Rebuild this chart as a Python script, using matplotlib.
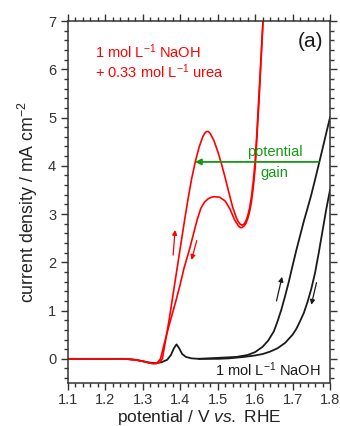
import matplotlib
matplotlib.use('Agg')
import matplotlib.pyplot as plt
from matplotlib.ticker import MultipleLocator

plt.rcParams['font.family'] = ['Liberation Sans', 'DejaVu Sans']
plt.rcParams['mathtext.fontset'] = 'custom'
plt.rcParams['mathtext.rm'] = 'Liberation Sans'
plt.rcParams['mathtext.it'] = 'Liberation Sans:italic'

# 1 M NaOH + 0.33 M urea, forward scan
urea_fwd_v = [1.10, 1.20, 1.25, 1.28, 1.30, 1.32, 1.335, 1.345, 1.352, 1.36, 1.37,
              1.38, 1.39, 1.40, 1.41, 1.42, 1.43, 1.44, 1.45, 1.46, 1.465, 1.47,
              1.475, 1.48, 1.49, 1.50, 1.51, 1.52, 1.53, 1.54, 1.55, 1.555, 1.56,
              1.565, 1.57, 1.575, 1.58, 1.585, 1.59, 1.595, 1.60, 1.604, 1.608,
              1.614, 1.621, 1.623]
urea_fwd_j = [0, 0, 0, -0.02, -0.05, -0.09, -0.10, -0.07, 0, 0.35, 0.8,
              1.3, 1.8, 2.3, 2.8, 3.28, 3.72, 4.08, 4.38, 4.6, 4.67, 4.71,
              4.71, 4.67, 4.52, 4.3, 4.04, 3.75, 3.44, 3.14, 2.92, 2.84, 2.79,
              2.77, 2.79, 2.85, 2.96, 3.12, 3.35, 3.68, 4.1, 4.6, 5.16,
              6.0, 7.0, 7.3]
# reverse scan
urea_rev_v = [1.623, 1.621, 1.61, 1.60, 1.595, 1.59, 1.585, 1.58, 1.575, 1.57, 1.565,
              1.56, 1.555, 1.545, 1.533, 1.52, 1.505, 1.49, 1.484, 1.475, 1.465,
              1.455, 1.445, 1.435, 1.425, 1.41, 1.40, 1.39, 1.38, 1.37, 1.36,
              1.347, 1.34, 1.33, 1.32, 1.30, 1.28, 1.25]
urea_rev_j = [7.3, 7.0, 5.3, 3.95, 3.55, 3.25, 3.04, 2.9, 2.8, 2.75, 2.72,
              2.72, 2.76, 2.88, 3.1, 3.27, 3.35, 3.36, 3.35, 3.32, 3.25,
              3.12, 2.88, 2.58, 2.28, 1.88, 1.55, 1.25, 0.97, 0.69, 0.4,
              0.0, -0.07, -0.1, -0.09, -0.05, -0.02, 0]

# 1 M NaOH, forward scan
naoh_fwd_v = [1.10, 1.25, 1.28, 1.30, 1.32, 1.335, 1.35, 1.365, 1.375, 1.383, 1.39,
              1.397, 1.405, 1.415, 1.43, 1.45, 1.50, 1.55, 1.58, 1.60, 1.62, 1.635,
              1.65, 1.66, 1.67, 1.68, 1.69, 1.70, 1.71, 1.72, 1.73, 1.74, 1.75,
              1.76, 1.77, 1.78, 1.79, 1.80]
naoh_fwd_j = [0, 0, -0.02, -0.05, -0.08, -0.09, -0.07, -0.02, 0.08, 0.22, 0.30,
              0.22, 0.10, 0.04, 0.01, 0, 0.02, 0.04, 0.08, 0.14, 0.25, 0.38,
              0.57, 0.78, 1.02, 1.3, 1.6, 1.93, 2.25, 2.55, 2.85, 3.12, 3.40,
              3.71, 4.03, 4.35, 4.68, 5.0]
# reverse scan
naoh_rev_v = [1.80, 1.79, 1.78, 1.77, 1.76, 1.75, 1.74, 1.73, 1.72, 1.71, 1.70,
              1.68, 1.66, 1.64, 1.62, 1.60, 1.57, 1.53, 1.50, 1.45]
naoh_rev_j = [3.5, 3.1, 2.65, 2.2, 1.78, 1.45, 1.18, 0.95, 0.78, 0.62, 0.5,
              0.33, 0.22, 0.15, 0.1, 0.07, 0.04, 0.01, 0, 0]

fig = plt.figure(figsize=(3.4, 4.26), dpi=100)
ax = fig.add_axes([0.2, 0.101, 0.7706, 0.8497])

red = '#ff0000'
green = '#139a13'
black = '#1a1a1a'
ax.plot(naoh_fwd_v, naoh_fwd_j, color=black, lw=1.3)
ax.plot(naoh_rev_v, naoh_rev_j, color=black, lw=1.3)
ax.plot(urea_fwd_v, urea_fwd_j, color=red, lw=1.2)
ax.plot(urea_rev_v, urea_rev_j, color=red, lw=1.2)

# scan direction arrows
arw = dict(arrowstyle='-|>', lw=0.9, mutation_scale=7, shrinkA=0, shrinkB=0)
ax.annotate('', xy=(1.386, 2.67), xytext=(1.381, 2.15), arrowprops=dict(arw, color=red))
ax.annotate('', xy=(1.430, 2.05), xytext=(1.444, 2.45), arrowprops=dict(arw, color=red))
ax.annotate('', xy=(1.672, 1.70), xytext=(1.657, 1.20), arrowprops=dict(arw, color=black))
ax.annotate('', xy=(1.750, 1.12), xytext=(1.764, 1.58), arrowprops=dict(arw, color=black))

# potential gain arrow
ax.annotate('', xy=(1.439, 4.08), xytext=(1.770, 4.08),
            arrowprops=dict(arrowstyle='-|>', lw=1.3, color=green, mutation_scale=9,
                            shrinkA=0, shrinkB=0))
ax.text(1.653, 4.29, 'potential', color=green, fontsize=10.5, ha='center', va='center')
ax.text(1.651, 3.85, 'gain', color=green, fontsize=10.5, ha='center', va='center')

ax.text(1.172, 6.36, '1 mol L$^{-1}$ NaOH', color=red, fontsize=10.5, ha='left', va='center')
ax.text(1.172, 5.95, '+ 0.33 mol L$^{-1}$ urea', color=red, fontsize=10.5, ha='left', va='center')
ax.text(1.775, -0.23, '1 mol L$^{-1}$ NaOH', color=black, fontsize=10.5, ha='right', va='center')
ax.text(1.747, 6.57, '(a)', color=black, fontsize=15, ha='center', va='center')

ax.set_xlim(1.1, 1.8)
ax.set_ylim(-0.5, 7)
ax.xaxis.set_major_locator(MultipleLocator(0.1))
ax.xaxis.set_minor_locator(MultipleLocator(0.02))
ax.yaxis.set_major_locator(MultipleLocator(1))
ax.yaxis.set_minor_locator(MultipleLocator(0.2))
ax.tick_params(which='both', direction='out', top=True, right=True, colors='#333333',
               labelsize=10.5, width=1.0)
ax.tick_params(axis='x', which='major', pad=2)
ax.tick_params(which='major', length=5)
ax.tick_params(which='minor', length=3)
for s in ax.spines.values():
    s.set_color('#333333')
    s.set_linewidth(1.1)

ax.set_xlabel('potential / V $\\mathit{vs.}$ RHE', fontsize=12.5, color='#222222', labelpad=1)
ax.set_ylabel('current density / mA cm$^{-2}$', fontsize=12.8, color='#222222', labelpad=6)

fig.savefig('out.png', dpi=100)
